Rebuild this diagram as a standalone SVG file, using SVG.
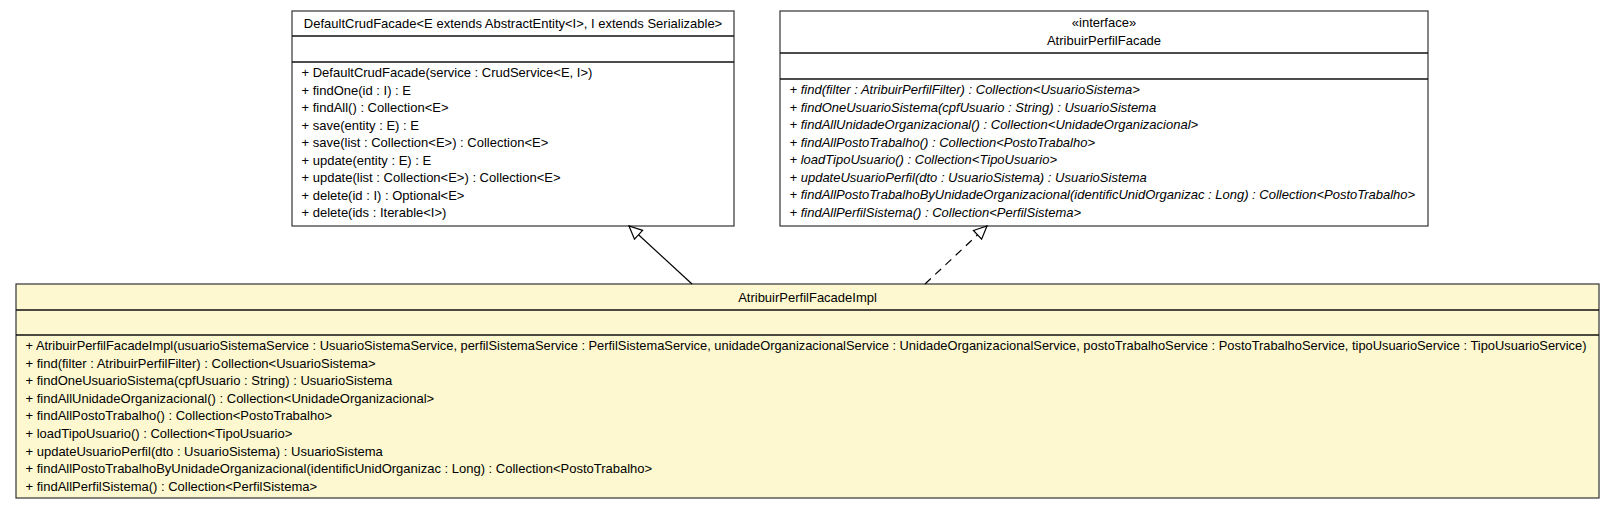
<svg xmlns="http://www.w3.org/2000/svg" width="1616" height="509" viewBox="0 0 1616 509">
<style>
text{font-family:"Liberation Sans",Arial,sans-serif;font-size:13px;fill:#000}
.c{text-anchor:middle}
.i{font-style:italic}
.box{fill:#fff;stroke:#333;stroke-width:1.2}
.impl{fill:#fdf8cf;stroke:#333;stroke-width:1.2}
.sep{stroke:#111;stroke-width:1.4}
.edge{fill:none;stroke:#000;stroke-width:1.2}
.dash{stroke-dasharray:8,6}
</style>
<defs>
<marker id="tri" markerUnits="userSpaceOnUse" markerWidth="16" markerHeight="16" refX="14" refY="7" orient="auto">
<path d="M1,1 L14,7 L1,13 z" fill="#fff" stroke="#000" stroke-width="1.2" stroke-dasharray="none"/>
</marker>
</defs>
<rect width="1616" height="509" fill="#fff"/>
<g id="DefaultCrudFacade">
<rect class="box" x="292" y="11" width="442" height="215"/>
<line class="sep" x1="292" y1="36" x2="734" y2="36"/>
<line class="sep" x1="292" y1="62" x2="734" y2="62"/>
<text class="c" x="513" y="28">DefaultCrudFacade&lt;E extends AbstractEntity&lt;I&gt;, I extends Serializable&gt;</text>
<text x="301.5" y="77">+ DefaultCrudFacade(service : CrudService&lt;E, I&gt;)</text>
<text x="301.5" y="94.5">+ findOne(id : I) : E</text>
<text x="301.5" y="112">+ findAll() : Collection&lt;E&gt;</text>
<text x="301.5" y="129.5">+ save(entity : E) : E</text>
<text x="301.5" y="147">+ save(list : Collection&lt;E&gt;) : Collection&lt;E&gt;</text>
<text x="301.5" y="164.5">+ update(entity : E) : E</text>
<text x="301.5" y="182">+ update(list : Collection&lt;E&gt;) : Collection&lt;E&gt;</text>
<text x="301.5" y="199.5">+ delete(id : I) : Optional&lt;E&gt;</text>
<text x="301.5" y="217">+ delete(ids : Iterable&lt;I&gt;)</text>
</g>
<g id="AtribuirPerfilFacade">
<rect class="box" x="780" y="11" width="648" height="215"/>
<line class="sep" x1="780" y1="53" x2="1428" y2="53"/>
<line class="sep" x1="780" y1="79" x2="1428" y2="79"/>
<text class="c" x="1104" y="27">«interface»</text>
<text class="c" x="1104" y="44.5">AtribuirPerfilFacade</text>
<text class="i" x="789.5" y="94">+ find(filter : AtribuirPerfilFilter) : Collection&lt;UsuarioSistema&gt;</text>
<text class="i" x="789.5" y="111.5">+ findOneUsuarioSistema(cpfUsuario : String) : UsuarioSistema</text>
<text class="i" x="789.5" y="129">+ findAllUnidadeOrganizacional() : Collection&lt;UnidadeOrganizacional&gt;</text>
<text class="i" x="789.5" y="146.5">+ findAllPostoTrabalho() : Collection&lt;PostoTrabalho&gt;</text>
<text class="i" x="789.5" y="164">+ loadTipoUsuario() : Collection&lt;TipoUsuario&gt;</text>
<text class="i" x="789.5" y="181.5">+ updateUsuarioPerfil(dto : UsuarioSistema) : UsuarioSistema</text>
<text class="i" x="789.5" y="199">+ findAllPostoTrabalhoByUnidadeOrganizacional(identificUnidOrganizac : Long) : Collection&lt;PostoTrabalho&gt;</text>
<text class="i" x="789.5" y="216.5">+ findAllPerfilSistema() : Collection&lt;PerfilSistema&gt;</text>
</g>
<g id="AtribuirPerfilFacadeImpl">
<rect class="impl" x="16" y="284" width="1583" height="214"/>
<line class="sep" x1="16" y1="310" x2="1599" y2="310"/>
<line class="sep" x1="16" y1="335" x2="1599" y2="335"/>
<text class="c" x="807.5" y="301.5">AtribuirPerfilFacadeImpl</text>
<text x="25.5" y="350" textLength="1561" lengthAdjust="spacingAndGlyphs">+ AtribuirPerfilFacadeImpl(usuarioSistemaService : UsuarioSistemaService, perfilSistemaService : PerfilSistemaService, unidadeOrganizacionalService : UnidadeOrganizacionalService, postoTrabalhoService : PostoTrabalhoService, tipoUsuarioService : TipoUsuarioService)</text>
<text x="25.5" y="367.6">+ find(filter : AtribuirPerfilFilter) : Collection&lt;UsuarioSistema&gt;</text>
<text x="25.5" y="385.2">+ findOneUsuarioSistema(cpfUsuario : String) : UsuarioSistema</text>
<text x="25.5" y="402.8">+ findAllUnidadeOrganizacional() : Collection&lt;UnidadeOrganizacional&gt;</text>
<text x="25.5" y="420.4">+ findAllPostoTrabalho() : Collection&lt;PostoTrabalho&gt;</text>
<text x="25.5" y="438">+ loadTipoUsuario() : Collection&lt;TipoUsuario&gt;</text>
<text x="25.5" y="455.6">+ updateUsuarioPerfil(dto : UsuarioSistema) : UsuarioSistema</text>
<text x="25.5" y="473.2">+ findAllPostoTrabalhoByUnidadeOrganizacional(identificUnidOrganizac : Long) : Collection&lt;PostoTrabalho&gt;</text>
<text x="25.5" y="490.8">+ findAllPerfilSistema() : Collection&lt;PerfilSistema&gt;</text>
</g>
<g id="connectors">
<path class="edge" d="M692,284 L629,226" marker-end="url(#tri)"/>
<path class="edge dash" d="M925,284 L987,226" marker-end="url(#tri)"/>
</g>
</svg>
